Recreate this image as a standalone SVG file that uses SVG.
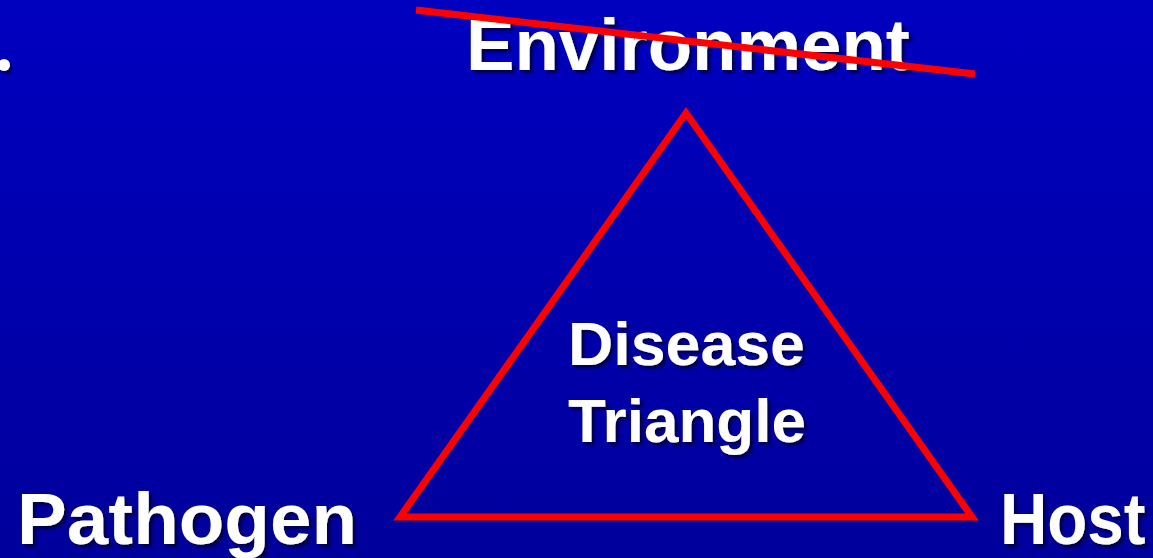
<svg xmlns="http://www.w3.org/2000/svg" width="1153" height="558" viewBox="0 0 1153 558">
  <defs>
    <linearGradient id="bg" x1="0" y1="0" x2="0" y2="1">
      <stop offset="0" stop-color="#0000C0"/>
      <stop offset="1" stop-color="#00009C"/>
    </linearGradient>
    <filter id="sh" x="-10%" y="-20%" width="120%" height="150%">
      <feDropShadow dx="3" dy="3" stdDeviation="1.5" flood-color="#000030" flood-opacity="0.8"/>
    </filter>
    <style>
      .lbl { font-family: "Liberation Sans", Arial, sans-serif; font-weight: bold; fill: #FFFFFF; filter: url(#sh); }
      .red { stroke: #FF0000; fill: none; }
    </style>
  </defs>
  <rect x="0" y="0" width="1153" height="558" fill="url(#bg)"/>
  <circle cx="4" cy="65" r="6" fill="#FFFFFF" filter="url(#sh)"/>
  <g id="environment">
    <text class="lbl" x="466" y="70" font-size="72" textLength="444" lengthAdjust="spacingAndGlyphs">Environment</text>
  </g>
  <g id="disease-triangle">
    <text class="lbl" x="568" y="365" font-size="61" textLength="237" lengthAdjust="spacingAndGlyphs">Disease</text>
    <text class="lbl" x="568" y="442" font-size="61" textLength="238" lengthAdjust="spacingAndGlyphs">Triangle</text>
  </g>
  <g id="pathogen">
    <text class="lbl" x="17" y="544" font-size="72" textLength="340" lengthAdjust="spacingAndGlyphs">Pathogen</text>
  </g>
  <g id="host">
    <text class="lbl" transform="translate(1000,544) scale(0.91,1)" x="0" y="0" font-size="72">Host</text>
  </g>
  <g id="connectors">
    <polygon class="red" points="686,113 400,517 972,517" stroke-width="7" stroke-linejoin="miter"/>
    <line class="red" x1="416" y1="10" x2="975" y2="74" stroke-width="7"/>
  </g>
</svg>
